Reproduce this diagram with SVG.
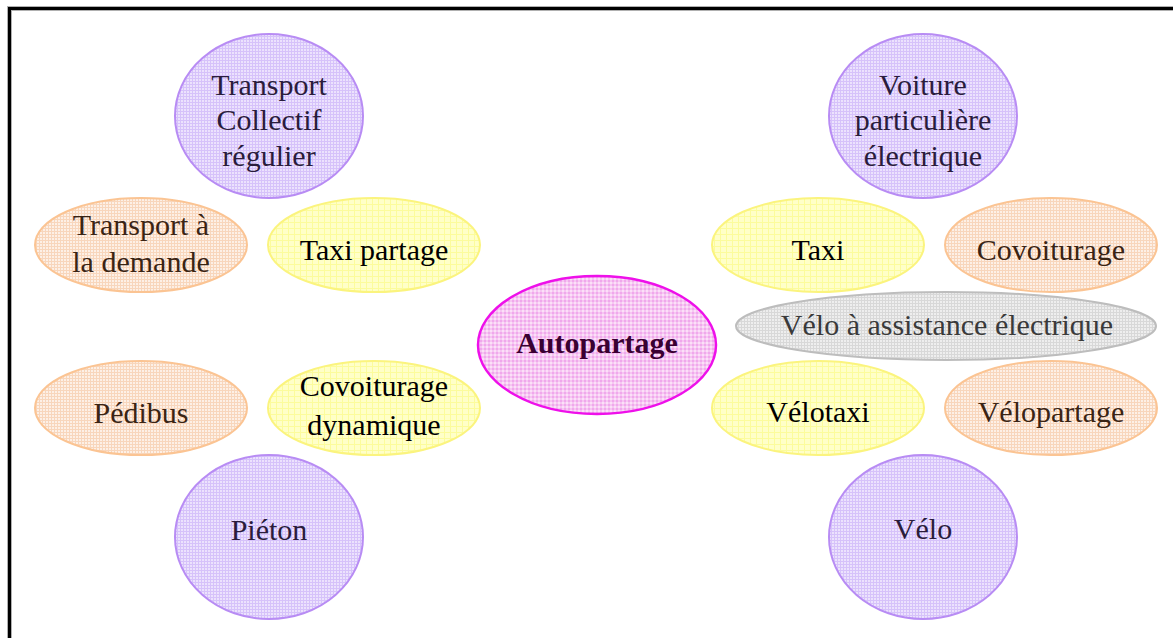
<svg xmlns="http://www.w3.org/2000/svg" width="1173" height="638" viewBox="0 0 1173 638">
<defs>
<pattern id="pPurple" width="3" height="3" patternUnits="userSpaceOnUse">
<rect width="3" height="3" fill="#ece2fd"/>
<path d="M0 0.5H3M0.5 0V3" stroke="#d6c2fa" stroke-width="1"/>
</pattern>
<pattern id="pOrange" width="3" height="3" patternUnits="userSpaceOnUse">
<rect width="3" height="3" fill="#fdf0e6"/>
<path d="M0 0.5H3M0.5 0V3" stroke="#f8d6bc" stroke-width="1"/>
</pattern>
<pattern id="pYellow" width="6" height="6" patternUnits="userSpaceOnUse">
<rect width="6" height="6" fill="#ffffc8"/>
<path d="M0 0.5H6M0.5 0V6" stroke="#fcfc9c" stroke-width="1"/>
</pattern>
<pattern id="pGrey" width="3" height="3" patternUnits="userSpaceOnUse">
<rect width="3" height="3" fill="#eeeeee"/>
<path d="M0 0.5H3M0.5 0V3" stroke="#d8d8d8" stroke-width="1"/>
</pattern>
<pattern id="pPink" width="4" height="4" patternUnits="userSpaceOnUse">
<rect width="4" height="4" fill="#f6c6f2"/>
<rect x="0" y="0" width="2" height="2" fill="#f0a8ec"/>
<rect x="2" y="2" width="2" height="2" fill="#fbe0f8"/>
</pattern>
</defs>
<style>
text{font-family:"Liberation Serif","Times New Roman",serif;font-size:30px;text-anchor:middle}
.purple ellipse{fill:url(#pPurple);stroke:#b88cf4;stroke-width:2}
.purple text{fill:#2a1c3c}
.orange ellipse{fill:url(#pOrange);stroke:#fbc493;stroke-width:2}
.orange text{fill:#3a2414}
.yellow ellipse{fill:url(#pYellow);stroke:#fbf47e;stroke-width:2}
.yellow text{fill:#000}
.grey ellipse{fill:url(#pGrey);stroke:#bdbdbd;stroke-width:2}
.grey text{fill:#3a3a3a}
.center ellipse{fill:url(#pPink);stroke:#ee10ea;stroke-width:2.5}
.center text{fill:#3a0032;font-weight:bold}
</style>
<rect width="1173" height="638" fill="#fff"/>
<rect x="9.5" y="8.5" width="1200" height="700" fill="none" stroke="#b0b0b0" stroke-width="5"/>
<rect x="9.5" y="8.5" width="1200" height="700" fill="none" stroke="#000" stroke-width="3"/>
<g id="connectors"/>
<g id="n-transport-collectif" class="purple">
<ellipse cx="269" cy="116" rx="94" ry="82"/>
<text x="269" y="95">Transport</text>
<text x="269" y="130">Collectif</text>
<text x="269" y="166">régulier</text>
</g>
<g id="n-voiture" class="purple">
<ellipse cx="923" cy="116" rx="94" ry="82"/>
<text x="923" y="95">Voiture</text>
<text x="923" y="130">particulière</text>
<text x="923" y="166">électrique</text>
</g>
<g id="n-tad" class="orange">
<ellipse cx="141" cy="245" rx="106" ry="47"/>
<text x="141" y="235">Transport à</text>
<text x="141" y="272">la demande</text>
</g>
<g id="n-taxi-partage" class="yellow">
<ellipse cx="374" cy="245" rx="106" ry="47"/>
<text x="374" y="260">Taxi partage</text>
</g>
<g id="n-taxi" class="yellow">
<ellipse cx="818" cy="245" rx="106" ry="47"/>
<text x="818" y="260">Taxi</text>
</g>
<g id="n-covoiturage" class="orange">
<ellipse cx="1051" cy="245" rx="106" ry="47"/>
<text x="1051" y="260">Covoiturage</text>
</g>
<g id="n-vae" class="grey">
<ellipse cx="946" cy="326" rx="210" ry="34"/>
<text x="947" y="335">Vélo à assistance électrique</text>
</g>
<g id="n-autopartage" class="center">
<ellipse cx="597" cy="345" rx="119" ry="69"/>
<text x="597" y="353">Autopartage</text>
</g>
<g id="n-pedibus" class="orange">
<ellipse cx="141" cy="408" rx="106" ry="47"/>
<text x="141" y="423">Pédibus</text>
</g>
<g id="n-covoit-dyn" class="yellow">
<ellipse cx="374" cy="408" rx="106" ry="47"/>
<text x="374" y="396">Covoiturage</text>
<text x="374" y="435">dynamique</text>
</g>
<g id="n-velotaxi" class="yellow">
<ellipse cx="818" cy="408" rx="106" ry="47"/>
<text x="818" y="422">Vélotaxi</text>
</g>
<g id="n-velopartage" class="orange">
<ellipse cx="1051" cy="408" rx="106" ry="47"/>
<text x="1051" y="422">Vélopartage</text>
</g>
<g id="n-pieton" class="purple">
<ellipse cx="269" cy="537" rx="94" ry="82"/>
<text x="269" y="540">Piéton</text>
</g>
<g id="n-velo" class="purple">
<ellipse cx="923" cy="537" rx="94" ry="82"/>
<text x="923" y="539">Vélo</text>
</g>
</svg>
